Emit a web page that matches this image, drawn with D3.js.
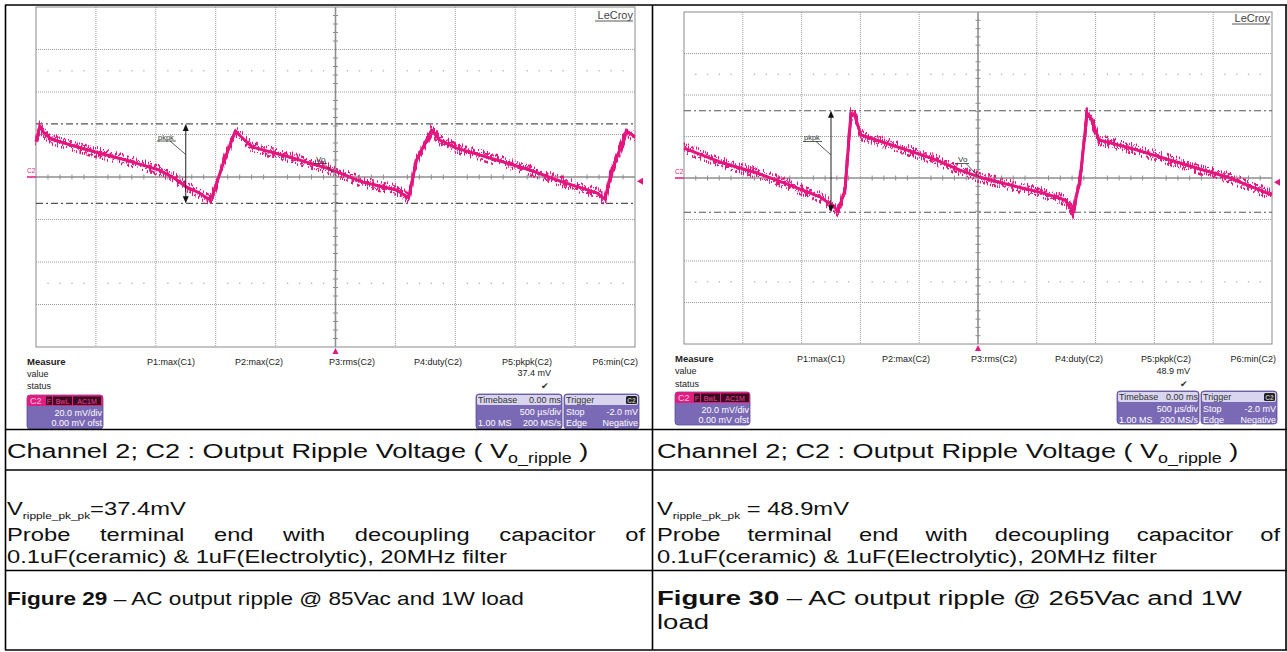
<!DOCTYPE html>
<html><head><meta charset="utf-8">
<script src="https://cdn.jsdelivr.net/npm/d3@7"></script>
<style>body{margin:0;background:#fff} svg{display:block} text{white-space:pre}</style>
</head><body>
<svg id="c" width="1287" height="652"></svg>
<script>
// ---------------- DATA ----------------
// time in µs (500 µs/div, 10 div), voltage in mV (20 mV/div, 8 div)
const p1Time = [-2500,-2467,-2433,-2375,-2182,-1973,-1722,-1472,-1346,-1246,-1137,-1062,-1028,-928,-836,-794,-694,-385,-75,33,226,368,510,610,677,803,870,1012,1346,1622,1898,2182,2249,2308,2433,2500];
const p1mV   = [16.5,24.0,20.7,17.9,14.6,11.3,7.5,3.3,-0.5,-4.7,-7.5,-10.4,-8.9,8.0,21.6,19.3,14.1,9.4,4.2,1.9,-2.4,-4.2,-6.1,-9.8,8.0,22.1,17.4,13.6,8.0,3.3,-2.4,-7.5,-10.4,3.3,21.6,18.8];
const p2Time = [-2500,-2168,-1879,-1599,-1344,-1224,-1190,-1131,-1080,-1046,-995,-604,-374,-153,9,272,553,740,808,867,927,961,1029,1267,1548,1828,2117,2398,2500];
const p2mV   = [14.4,7.2,2.4,-3.4,-9.1,-13.9,-15.9,-5.8,31.3,29.8,20.7,13.5,9.1,3.8,0.5,-3.4,-7.2,-10.6,-16.3,-1.0,31.3,28.8,18.3,14.9,10.1,5.3,0.5,-5.8,-8.2];
const p1Cursors = [25.0, -12.4];   // max / min (pkpk 37.4 mV)
const p2Cursors = [32.4, -16.5];   // max / min (pkpk 48.9 mV)
const cursorTime = -1250;          // pkpk arrow position (µs)
const timeDomain = [-2500, 2500];
const voltDomain = [-80, 80];
const timeMajor = d3.range(-2500, 2501, 500);
const voltMajor = d3.range(-80, 81, 20);
const measureLabels = ["P1:max(C1)","P2:max(C2)","P3:rms(C2)","P4:duty(C2)","P5:pkpk(C2)","P6:min(C2)"];
const pkpkValues = ["37.4 mV", "48.9 mV"];
const chanInfo = ["20.0 mV/div", "0.00 mV ofst"];
const timebaseInfo = ["Timebase", "0.00 ms", "500 µs/div", "1.00 MS", "200 MS/s"];
const triggerInfo = ["Trigger", "Stop", "-2.0 mV", "Edge", "Negative"];
const captions = {
  channel: ["Channel 2; C2 : Output Ripple Voltage ( V", "o_ripple", " )"],
  vLeft: ["V", "ripple_pk_pk", "=37.4mV"],
  vRight: ["V", "ripple_pk_pk", " = 48.9mV"],
  probe: "Probe terminal end with decoupling capacitor of",
  caps: "0.1uF(ceramic) & 1uF(Electrolytic), 20MHz filter",
  figLeft: ["Figure 29", " – AC output ripple @ 85Vac and 1W load"],
  figRight: ["Figure 30", " – AC output ripple @ 265Vac and 1W"],
  figRight2: "load"
};

// ---------------- LAYOUT ----------------
const svg = d3.select("#c");
const PINK = "#e3167f";
const FONT = "'Liberation Sans', Arial, sans-serif";
const defs = svg.append("defs");
function noiseFilter(id, freq, seed, scale){
  const f = defs.append("filter").attr("id",id).attr("filterUnits","userSpaceOnUse")
    .attr("x",0).attr("y",0).attr("width",1287).attr("height",652).attr("color-interpolation-filters","sRGB");
  f.append("feTurbulence").attr("type","fractalNoise").attr("baseFrequency",freq).attr("numOctaves",2).attr("seed",seed).attr("result","t");
  f.append("feColorMatrix").attr("in","t").attr("type","matrix")
    .attr("values","0 0 0 0 0.5  0 3.2 0 0 -1.1  0 0 0 0 0  0 0 0 0 1").attr("result","m");
  f.append("feDisplacementMap").attr("in","SourceGraphic").attr("in2","m").attr("scale",scale).attr("xChannelSelector","R").attr("yChannelSelector","G");
}
noiseFilter("noise", "1.2 0.06", 7, 10);
noiseFilter("noise2", "0.9 0.1", 23, 9);

const panels = [
  {gx0:36, gx1:635, gy0:7, gy1:347, time:p1Time, mv:p1mV, cur:p1Cursors, val:pkpkValues[0],
   pk:{x:158, y:139.5}, vo:{x:316, y:162},
   measX:27, measY:364.5, colR:[195,283,375,462,552,638],
   chan:{x:27,y:395,w:76,h:34}, tb:{x:476,y:394,w:86,h:35}, tr:{x:564,y:394,w:75,h:35},
   logo:{x:633,y:19}},
  {gx0:684, gx1:1272, gy0:12, gy1:344, time:p2Time, mv:p2mV, cur:p2Cursors, val:pkpkValues[1],
   pk:{x:804, y:140}, vo:{x:958, y:162},
   measX:675, measY:362, colR:[845,930,1017,1103,1191,1276],
   chan:{x:675,y:392,w:75,h:33}, tb:{x:1117,y:391,w:82,h:33}, tr:{x:1201,y:391,w:76,h:33},
   logo:{x:1270,y:22}}
];

function drawScope(cfg){
  const g = svg.append("g");
  const x = d3.scaleLinear().domain(timeDomain).range([cfg.gx0, cfg.gx1]);
  const y = d3.scaleLinear().domain(voltDomain).range([cfg.gy1, cfg.gy0]);
  g.selectAll(".vg").data(timeMajor.slice(1,-1).filter(d=>d!==0)).join("line")
    .attr("x1",d=>x(d)).attr("x2",d=>x(d)).attr("y1",cfg.gy0).attr("y2",cfg.gy1)
    .attr("stroke","#9a9a9a").attr("stroke-width",1).attr("stroke-dasharray","1,1");
  g.selectAll(".hg").data(voltMajor.slice(1,-1).filter(d=>d!==0)).join("line")
    .attr("y1",d=>y(d)).attr("y2",d=>y(d)).attr("x1",cfg.gx0).attr("x2",cfg.gx1)
    .attr("stroke","#9a9a9a").attr("stroke-width",1).attr("stroke-dasharray","1,1");
  const minorT = d3.range(-2500, 2501, 100).filter(d => d % 500 !== 0);
  [50,-50].forEach(v=>{
    g.selectAll(null).data(minorT).join("rect")
      .attr("x",d=>x(d)-0.6).attr("y",y(v)-0.6).attr("width",1.3).attr("height",1.3).attr("fill","#b0b0b0");
  });
  g.append("rect").attr("x",cfg.gx0).attr("y",cfg.gy0).attr("width",cfg.gx1-cfg.gx0).attr("height",cfg.gy1-cfg.gy0)
    .attr("fill","none").attr("stroke","#8a8a8a").attr("stroke-width",1);
  g.append("line").attr("x1",cfg.gx0).attr("x2",cfg.gx1).attr("y1",y(0)).attr("y2",y(0)).attr("stroke","#8e8e8e").attr("stroke-width",1.6);
  g.append("line").attr("y1",cfg.gy0).attr("y2",cfg.gy1).attr("x1",x(0)).attr("x2",x(0)).attr("stroke","#8e8e8e").attr("stroke-width",1.6);
  g.selectAll(null).data(minorT).join("line").attr("x1",d=>x(d)).attr("x2",d=>x(d)).attr("y1",y(0)-2.5).attr("y2",y(0)+2.5).attr("stroke","#8e8e8e");
  const minorV = d3.range(-80, 81, 4).filter(d => d % 20 !== 0);
  g.selectAll(null).data(minorV).join("line").attr("y1",d=>y(d)).attr("y2",d=>y(d)).attr("x1",x(0)-2.5).attr("x2",x(0)+2.5).attr("stroke","#8e8e8e");
  g.selectAll(null).data(cfg.cur).join("line").attr("x1",cfg.gx0).attr("x2",cfg.gx1).attr("y1",d=>y(d)).attr("y2",d=>y(d))
    .attr("stroke","#555").attr("stroke-width",1.1).attr("stroke-dasharray","7,3,2,3");
  // trace
  const pts = cfg.time.map((t,i)=>[t, cfg.mv[i]]);
  const line = d3.line().x(d=>x(d[0])).y(d=>y(d[1]));
  g.append("path").attr("d",line(pts)).attr("fill","none").attr("stroke",PINK).attr("stroke-width",3).attr("stroke-linejoin","round");
  g.append("path").attr("d",line(pts)).attr("fill","none").attr("stroke",PINK).attr("stroke-width",2.6).attr("filter","url(#noise)");
  g.append("path").attr("d",line(pts)).attr("fill","none").attr("stroke",PINK).attr("stroke-width",2.2).attr("filter","url(#noise2)");
  // pkpk arrow
  const ax = x(cursorTime), yt = y(cfg.cur[0]), yb = y(cfg.cur[1]);
  g.append("line").attr("x1",ax).attr("x2",ax).attr("y1",yt+6).attr("y2",yb-6).attr("stroke","#222").attr("stroke-width",1);
  g.append("path").attr("d",`M${ax},${yt} l-3,7 l6,0 z`).attr("fill","#111");
  g.append("path").attr("d",`M${ax},${yb} l-3,-7 l6,0 z`).attr("fill","#111");
  g.append("text").attr("x",cfg.pk.x).attr("y",cfg.pk.y).text("pkpk").attr("font-family",FONT).attr("font-size",7.5).attr("fill","#333");
  g.append("line").attr("x1",cfg.pk.x-1).attr("x2",cfg.pk.x+18).attr("y1",cfg.pk.y+1.5).attr("y2",cfg.pk.y+1.5).attr("stroke","#333").attr("stroke-width",0.8);
  g.append("line").attr("x1",cfg.pk.x+12).attr("x2",ax).attr("y1",cfg.pk.y+1.5).attr("y2",cfg.pk.y+15).attr("stroke","#333").attr("stroke-width",0.8);
  g.append("text").attr("x",cfg.vo.x).attr("y",cfg.vo.y).text("Vo").attr("font-family",FONT).attr("font-size",8).attr("fill","#333");
  g.append("line").attr("x1",cfg.vo.x-2).attr("x2",cfg.vo.x+11).attr("y1",cfg.vo.y+1.5).attr("y2",cfg.vo.y+1.5).attr("stroke","#333").attr("stroke-width",0.8);
  g.append("line").attr("x1",cfg.vo.x+8).attr("x2",x(0)+1).attr("y1",cfg.vo.y+1.5).attr("y2",y(0)-1).attr("stroke","#333").attr("stroke-width",0.8);
  g.append("text").attr("x",cfg.gx0-9).attr("y",y(0)-4).text("C2").attr("font-family",FONT).attr("font-size",6.5).attr("fill",PINK);
  g.append("line").attr("x1",cfg.gx0-9).attr("x2",cfg.gx0).attr("y1",y(0)).attr("y2",y(0)).attr("stroke",PINK).attr("stroke-width",1.5);
  const ty = y(-2.0);
  g.append("path").attr("d",`M${cfg.gx1+2},${ty} l6,-3.5 l0,7 z`).attr("fill",PINK);
  g.append("path").attr("d",`M${x(0)},${cfg.gy1+1} l-3,6 l6,0 z`).attr("fill",PINK);
  g.append("text").attr("x",cfg.logo.x).attr("y",cfg.logo.y).attr("text-anchor","end").text("LeCroy")
    .attr("font-family",FONT).attr("font-size",11).attr("fill","#444");
  g.append("line").attr("x1",cfg.logo.x-38).attr("x2",cfg.logo.x).attr("y1",cfg.logo.y+2).attr("y2",cfg.logo.y+2).attr("stroke","#444").attr("stroke-width",0.9);

  const st = (sel)=>sel.attr("font-family",FONT).attr("font-size",9).attr("fill","#222");
  st(g.append("text").attr("x",cfg.measX).attr("y",cfg.measY).text("Measure")).attr("font-weight","bold").attr("font-size",9.5);
  st(g.append("text").attr("x",cfg.measX).attr("y",cfg.measY+12).text("value"));
  st(g.append("text").attr("x",cfg.measX).attr("y",cfg.measY+24.5).text("status"));
  measureLabels.forEach((m,i)=>{
    st(g.append("text").attr("x",cfg.colR[i]).attr("y",cfg.measY).attr("text-anchor","end").text(m));
  });
  st(g.append("text").attr("x",cfg.colR[4]-1).attr("y",cfg.measY+11.5).attr("text-anchor","end").text(cfg.val));
  st(g.append("text").attr("x",cfg.colR[4]-3).attr("y",cfg.measY+24.5).attr("text-anchor","end").text("✔")).attr("font-size",9).attr("fill","#333");

  const c = cfg.chan;
  g.append("rect").attr("x",c.x).attr("y",c.y).attr("width",c.w).attr("height",c.h).attr("rx",3).attr("fill","#7a69b5").attr("stroke","#5c4e96").attr("stroke-width",0.8);
  g.append("path").attr("d",`M${c.x},${c.y+11} v-8 q0,-3 3,-3 h${c.w-6} q3,0 3,3 v8 z`).attr("fill","#de1f80");
  g.append("text").attr("x",c.x+3).attr("y",c.y+9).text("C2").attr("font-family",FONT).attr("font-size",9).attr("fill","#ffc2e0");
  [["F",c.x+19,6],["BwL",c.x+26,19],["AC1M",c.x+46,28]].forEach(b=>{
    g.append("rect").attr("x",b[1]).attr("y",c.y+1.5).attr("width",b[2]).attr("height",8.5).attr("fill","#3b0b22");
    g.append("text").attr("x",b[1]+b[2]/2).attr("y",c.y+8.6).attr("text-anchor","middle").text(b[0]).attr("font-family",FONT).attr("font-size",7).attr("fill","#f04595");
  });
  g.append("text").attr("x",c.x+c.w-1).attr("y",c.y+20.5).attr("text-anchor","end").text(chanInfo[0]).attr("font-family",FONT).attr("font-size",9).attr("fill","#fff");
  g.append("text").attr("x",c.x+c.w-1).attr("y",c.y+31).attr("text-anchor","end").text(chanInfo[1]).attr("font-family",FONT).attr("font-size",9).attr("fill","#fff");

  const tb = cfg.tb;
  g.append("rect").attr("x",tb.x).attr("y",tb.y).attr("width",tb.w).attr("height",tb.h).attr("rx",3).attr("fill","#7a69b5").attr("stroke","#5c4e96").attr("stroke-width",0.8);
  g.append("rect").attr("x",tb.x+1).attr("y",tb.y+1).attr("width",tb.w-2).attr("height",10).attr("rx",2).attr("fill","#d9d5ee");
  const tw = (s,xx,yy,anc,col)=>g.append("text").attr("x",xx).attr("y",yy).attr("text-anchor",anc).text(s).attr("font-family",FONT).attr("font-size",9).attr("fill",col);
  tw(timebaseInfo[0], tb.x+2, tb.y+9, "start", "#333");
  tw(timebaseInfo[1], tb.x+tb.w-1, tb.y+9, "end", "#333");
  tw(timebaseInfo[2], tb.x+tb.w-1, tb.y+21, "end", "#fff");
  tw(timebaseInfo[3], tb.x+2, tb.y+32, "start", "#fff");
  tw(timebaseInfo[4], tb.x+tb.w-1, tb.y+32, "end", "#fff");
  const tr = cfg.tr;
  g.append("rect").attr("x",tr.x).attr("y",tr.y).attr("width",tr.w).attr("height",tr.h).attr("rx",3).attr("fill","#7a69b5").attr("stroke","#5c4e96").attr("stroke-width",0.8);
  g.append("rect").attr("x",tr.x+1).attr("y",tr.y+1).attr("width",tr.w-2).attr("height",10).attr("rx",2).attr("fill","#d9d5ee");
  tw(triggerInfo[0], tr.x+2, tr.y+9, "start", "#333");
  g.append("rect").attr("x",tr.x+tr.w-13).attr("y",tr.y+2).attr("width",11).attr("height",8).attr("rx",1.5).attr("fill","#222");
  g.append("text").attr("x",tr.x+tr.w-7.5).attr("y",tr.y+8.6).attr("text-anchor","middle").text("C2").attr("font-family",FONT).attr("font-size",6.5).attr("font-weight","bold").attr("fill","#bbb");
  tw(triggerInfo[1], tr.x+2, tr.y+21, "start", "#fff");
  tw(triggerInfo[2], tr.x+tr.w-1, tr.y+21, "end", "#fff");
  tw(triggerInfo[3], tr.x+2, tr.y+32, "start", "#fff");
  tw(triggerInfo[4], tr.x+tr.w-1, tr.y+32, "end", "#fff");
}
panels.forEach(drawScope);

// ---------------- TABLE ----------------
const tg = svg.append("g").attr("font-family", FONT).attr("fill","#111");
function rich(x, yb, segs, fs, sx, subR){
  subR = subR || 0.66;
  const t = tg.append("text").attr("transform",`translate(${x},${yb}) scale(${sx},1)`).attr("font-size",fs);
  let shifted = false;
  segs.forEach(s=>{
    const ts = t.append("tspan").text(s.t);
    if (s.b) ts.attr("font-weight","bold");
    if (s.sub){ ts.attr("font-size",fs*subR).attr("dy",fs*0.22); shifted = true; }
    else if (shifted){ ts.attr("dy",-fs*0.22); shifted = false; }
  });
  return t;
}
function justify(x0, x1, yb, str, fs, sx){
  const words = str.split(" ");
  const els = words.map(w => tg.append("text").attr("font-size",fs).text(w));
  const widths = els.map(e => e.node().getComputedTextLength()*sx);
  const gap = (x1 - x0 - d3.sum(widths)) / (words.length - 1);
  let cx = x0;
  els.forEach((e,i)=>{ e.attr("transform",`translate(${cx},${yb}) scale(${sx},1)`); cx += widths[i] + gap; });
}
const colL = 7, colR = 657;
const CH = [21, 1.29], DS = [18, 1.32], FL = [18, 1.255], FR = [20, 1.375];
[colL, colR].forEach(cx => rich(cx, 458, [{t:captions.channel[0]},{t:captions.channel[1],sub:true},{t:captions.channel[2]}], CH[0], CH[1]));
rich(colL, 515, [{t:captions.vLeft[0]},{t:captions.vLeft[1],sub:true},{t:captions.vLeft[2]}], DS[0], DS[1], 0.5);
rich(colR, 515, [{t:captions.vRight[0]},{t:captions.vRight[1],sub:true},{t:captions.vRight[2]}], DS[0], DS[1], 0.5);
justify(colL, 645, 541, captions.probe, DS[0], DS[1]);
justify(colR, 1280, 541, captions.probe, DS[0], DS[1]);
rich(colL, 563, [{t:captions.caps}], DS[0], DS[1]);
rich(colR, 563, [{t:captions.caps}], DS[0], DS[1]);
rich(colL, 605, [{t:captions.figLeft[0],b:true},{t:captions.figLeft[1]}], FL[0], FL[1]);
rich(colR, 605, [{t:captions.figRight[0],b:true},{t:captions.figRight[1]}], FR[0], FR[1]);
rich(colR, 629, [{t:captions.figRight2}], FR[0], FR[1]);

const rules = svg.append("g").attr("stroke","#000").attr("stroke-width",1.6);
[[5,5,1287,5],[5,429.5,1287,429.5],[5,470,1287,470],[5,570.5,1287,570.5],[5,650,1287,650],
 [5.5,5,5.5,650],[652.5,5,652.5,650],[1286,5,1286,650]].forEach(l=>{
  rules.append("line").attr("x1",l[0]).attr("y1",l[1]).attr("x2",l[2]).attr("y2",l[3]);
});
</script>
</body></html>
